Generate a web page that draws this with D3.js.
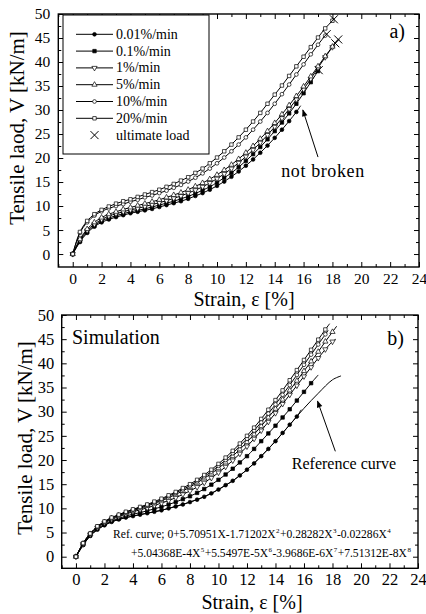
<!DOCTYPE html>
<html>
<head>
<meta charset="utf-8">
<script src="https://cdn.jsdelivr.net/npm/d3@7"></script>
<style>
    body { margin: 0; background: #fff; }
    svg text { font-family: "Liberation Serif", "Times New Roman", serif !important; fill: #000; }
</style>
</head>
<body>
<svg id="chart" width="426" height="614" font-family="Liberation Serif"></svg>
<script>
// tick labels
const xTicks = [0, 2, 4, 6, 8, 10, 12, 14, 16, 18, 20, 22, 24];
const xMinor = [-1, 1, 3, 5, 7, 9, 11, 13, 15, 17, 19, 21, 23];
const yTicks = [0, 5, 10, 15, 20, 25, 30, 35, 40, 45, 50];
const yMinor = [2.5, 7.5, 12.5, 17.5, 22.5, 27.5, 32.5, 37.5, 42.5, 47.5];

const rateLabels = ["0.01%/min", "0.1%/min", "1%/min", "5%/min", "10%/min", "20%/min"];
const markerTypes = ["circleFilled", "squareFilled", "triangleDown", "triangleUp", "circle", "square"];

// strain [%] of the measured points
const strainGrid = [0, 0.5, 1, 1.5, 2, 2.5, 3, 3.5, 4, 4.5, 5, 5.5, 6, 6.5, 7, 7.5, 8, 8.5,
    9, 9.5, 10, 10.5, 11, 11.5, 12, 12.5, 13, 13.5, 14, 14.5, 15, 15.5, 16, 16.5, 17, 17.5, 18];

// a) experiment, tensile load [kN/m]
const testLoad001 = [0, 2.5, 4.4, 5.7, 6.6, 7.2, 7.7, 8.1, 8.5, 8.8, 9.1, 9.4, 9.8, 10.2, 10.6, 11.0, 11.5, 12.1,
    12.7, 13.4, 14.2, 15.1, 16.1, 17.2, 18.4, 19.7, 21.1, 22.6, 24.2, 25.9, 27.7, 29.6];
const testLoad01 = [0, 2.7, 4.6, 5.9, 6.9, 7.5, 8.0, 8.4, 8.8, 9.1, 9.4, 9.8, 10.2, 10.6, 11.0, 11.5, 12.0, 12.6,
    13.3, 14.0, 14.9, 15.9, 16.9, 18.1, 19.4, 20.8, 22.3, 23.9, 25.6, 27.4, 29.3, 31.3, 33.5, 35.8, 38.1];
const testLoad1 = [0, 2.9, 4.9, 6.2, 7.2, 7.9, 8.4, 8.8, 9.2, 9.5, 9.9, 10.3, 10.7, 11.1, 11.6, 12.1, 12.7, 13.3,
    14.0, 14.8, 15.7, 16.7, 17.8, 19.0, 20.3, 21.7, 23.2, 24.8, 26.5, 28.3, 30.2, 32.2, 34.3, 36.5, 38.8, 41.0, 43.1];
const testLoad5 = [0, 3.1, 5.2, 6.6, 7.6, 8.3, 8.8, 9.3, 9.7, 10.1, 10.5, 10.9, 11.3, 11.8, 12.3, 12.8, 13.4, 14.1,
    14.8, 15.6, 16.5, 17.5, 18.6, 19.8, 21.1, 22.5, 24.0, 25.6, 27.3, 29.1, 31.0, 32.9, 34.9, 37.0, 39.1, 41.2, 43.2];
const testLoad10 = [0, 4.4, 6.6, 8.0, 8.9, 9.5, 10.0, 10.4, 10.9, 11.3, 11.8, 12.2, 12.7, 13.2, 13.8, 14.4, 15.1, 15.9,
    16.8, 17.8, 18.9, 20.1, 21.4, 22.8, 24.3, 25.9, 27.6, 29.4, 31.3, 33.3, 35.3, 37.4, 39.5, 41.6, 43.6, 45.5];
const testLoad20 = [0, 4.6, 6.9, 8.3, 9.2, 9.9, 10.5, 11.0, 11.4, 11.9, 12.4, 12.9, 13.4, 14.0, 14.6, 15.3, 16.0, 16.9,
    17.8, 18.9, 20.1, 21.4, 22.8, 24.3, 25.9, 27.6, 29.4, 31.3, 33.2, 35.1, 37.1, 39.1, 41.1, 43.1, 45.1, 47.0, 48.6];
// last point of each test [strain, load]; the 0.01%/min sample did not break
const testEnd = [[15.8, 30.9], [17.05, 38.3], [18.2, 43.9], [18.4, 44.7], [17.6, 45.8], [18.1, 48.9]];
const testBroken = [false, true, true, true, true, true];

// b) simulation
const simLoad001 = [0, 2.4, 4.3, 5.6, 6.5, 7.2, 7.7, 8.1, 8.4, 8.7, 9.0, 9.3, 9.6, 10.0, 10.4, 10.8, 11.3, 11.8,
    12.4, 13.1, 13.9, 14.8, 15.7, 16.8, 18.0, 19.3, 20.8, 22.3, 23.9, 25.6, 27.3, 29.0];
const simLoad01 = [0, 2.5, 4.4, 5.8, 6.7, 7.4, 7.9, 8.4, 8.8, 9.1, 9.5, 9.9, 10.3, 10.8, 11.3, 11.9, 12.5, 13.2,
    14.0, 14.9, 15.9, 17.0, 18.2, 19.5, 20.8, 22.3, 23.9, 25.5, 27.1, 28.8, 30.5, 32.3, 34.1, 35.9];
const simLoad1 = [0, 2.6, 4.6, 6.0, 7.0, 7.7, 8.3, 8.8, 9.3, 9.7, 10.1, 10.6, 11.1, 11.6, 12.2, 12.9, 13.6, 14.4,
    15.3, 16.3, 17.4, 18.6, 19.9, 21.3, 22.8, 24.4, 26.1, 27.9, 29.7, 31.6, 33.5, 35.4, 37.3, 39.2, 41.1, 42.9, 44.5];
const simLoad5 = [0, 2.7, 4.7, 6.1, 7.1, 7.9, 8.5, 9.0, 9.5, 10.0, 10.5, 11.0, 11.6, 12.2, 12.9, 13.6, 14.4, 15.3,
    16.2, 17.2, 18.3, 19.5, 20.8, 22.2, 23.7, 25.3, 27.0, 28.8, 30.6, 32.5, 34.4, 36.4, 38.4, 40.4, 42.4, 44.5, 46.5];
const simLoad10 = [0, 2.8, 4.8, 6.2, 7.2, 8.0, 8.6, 9.2, 9.7, 10.2, 10.7, 11.2, 11.8, 12.5, 13.2, 13.9, 14.7, 15.6,
    16.6, 17.6, 18.8, 20.0, 21.4, 22.9, 24.4, 26.1, 27.8, 29.6, 31.5, 33.5, 35.5, 37.6, 39.7, 41.8, 43.9, 46.0];
const simLoad20 = [0, 2.8, 4.8, 6.3, 7.3, 8.1, 8.7, 9.3, 9.8, 10.3, 10.8, 11.4, 12.0, 12.7, 13.4, 14.2, 15.0, 15.9,
    16.9, 18.0, 19.2, 20.5, 21.9, 23.4, 25.0, 26.7, 28.5, 30.4, 32.4, 34.4, 36.5, 38.6, 40.7, 42.8, 44.9, 47.0];
const simEnd = [[15.8, 30.4], [17.0, 37.6], [18.24, 45.0], [18.3, 47.7], [17.7, 46.8], [17.8, 48.2]];

// reference curve (plain line)
const refStrain = [0, 1, 2, 3, 4, 5, 6, 7, 8, 9, 10, 11, 12, 13, 14, 15, 16, 17, 18, 18.6];
const refLoad = [0, 4.3, 6.5, 7.7, 8.4, 9.0, 9.6, 10.4, 11.3, 12.4, 13.9, 15.7, 18.0, 20.8, 23.9, 27.3, 30.7, 33.8, 36.6, 37.4];

const testLoads = [testLoad001, testLoad01, testLoad1, testLoad5, testLoad10, testLoad20];
const simLoads = [simLoad001, simLoad01, simLoad1, simLoad5, simLoad10, simLoad20];

const SERIF = '"Liberation Serif", "Times New Roman", serif';
const svg = d3.select("#chart");

// arrow head
svg.append("defs").append("marker")
    .attr("id", "arrow")
    .attr("viewBox", "0 0 10 10")
    .attr("refX", 9).attr("refY", 5)
    .attr("markerWidth", 9).attr("markerHeight", 7)
    .attr("markerUnits", "userSpaceOnUse")
    .attr("orient", "auto")
    .append("path")
    .attr("d", "M0,1L10,5L0,9z")
    .attr("fill", "#000");

function symbolPath(type) {
    const s = d3.symbol();
    if (type === "circle" || type === "circleFilled") return s.type(d3.symbolCircle).size(11)();
    if (type === "square" || type === "squareFilled") return s.type(d3.symbolSquare).size(12)();
    return s.type(d3.symbolTriangle).size(12)();
}

function drawMarkers(g, pts, x, y, type) {
    const filled = type.endsWith("Filled");
    g.append("g").selectAll("path")
        .data(pts)
        .enter().append("path")
        .attr("d", symbolPath(type))
        .attr("transform", d => `translate(${x(d[0])},${y(d[1])})` + (type === "triangleDown" ? " rotate(180)" : ""))
        .attr("fill", filled ? "#000" : "#fff")
        .attr("stroke", "#000")
        .attr("stroke-width", 0.7);
}

function drawPanel(p) {
    const g = svg.append("g");
    const x = d3.scaleLinear().domain([-1, 24]).range([p.left, p.right]);
    const y = d3.scaleLinear().domain([p.yMin, 50]).range([p.bottom, p.top]);

    const styleTicks = a => {
        a.attr("font-family", SERIF);
        a.select(".domain").remove();
        a.selectAll("line").attr("stroke-width", 1);
        a.selectAll("text").attr("font-size", p.tickFont).attr("fill", "#000");
    };

    g.append("g").attr("transform", `translate(0,${p.bottom})`)
        .call(d3.axisBottom(x).tickValues(xTicks).tickSize(-5).tickPadding(p.xPad)).call(styleTicks);
    g.append("g").attr("transform", `translate(0,${p.bottom})`)
        .call(d3.axisBottom(x).tickValues(xMinor).tickSize(-3).tickFormat("")).call(styleTicks);
    g.append("g").attr("transform", `translate(0,${p.top})`)
        .call(d3.axisTop(x).tickValues(xTicks).tickSize(-5).tickFormat("")).call(styleTicks);
    g.append("g").attr("transform", `translate(0,${p.top})`)
        .call(d3.axisTop(x).tickValues(xMinor).tickSize(-3).tickFormat("")).call(styleTicks);
    g.append("g").attr("transform", `translate(${p.left},0)`)
        .call(d3.axisLeft(y).tickValues(yTicks).tickSize(-5).tickPadding(p.yPad)).call(styleTicks);
    g.append("g").attr("transform", `translate(${p.left},0)`)
        .call(d3.axisLeft(y).tickValues(yMinor).tickSize(-3).tickFormat("")).call(styleTicks);
    g.append("g").attr("transform", `translate(${p.right},0)`)
        .call(d3.axisRight(y).tickValues(yTicks).tickSize(-5).tickFormat("")).call(styleTicks);
    g.append("g").attr("transform", `translate(${p.right},0)`)
        .call(d3.axisRight(y).tickValues(yMinor).tickSize(-3).tickFormat("")).call(styleTicks);

    g.append("rect")
        .attr("x", p.left).attr("y", p.top)
        .attr("width", p.right - p.left).attr("height", p.bottom - p.top)
        .attr("fill", "none").attr("stroke", "#000").attr("stroke-width", 1.4);

    // axis titles
    g.append("text")
        .attr("x", p.xTitleX).attr("y", p.xTitleY)
        .attr("text-anchor", "middle").attr("font-size", 20)
        .text("Strain, ε [%]");
    g.append("text")
        .attr("transform", `translate(${p.yTitleX},${p.yTitleY}) rotate(-90)`)
        .attr("text-anchor", "middle").attr("font-size", 21)
        .text(p.yTitle);

    const line = d3.line().x(d => x(d[0])).y(d => y(d[1])).curve(d3.curveCatmullRom);

    if (p.ref) {
        const refPts = refStrain.map((s, i) => [s, refLoad[i]]);
        g.append("path").attr("d", line(refPts))
            .attr("fill", "none").attr("stroke", "#000").attr("stroke-width", 1);
    }

    p.loads.forEach((loads, k) => {
        const pts = loads.map((v, i) => [strainGrid[i], v]);
        const all = pts.concat([p.ends[k]]);
        g.append("path").attr("d", line(all))
            .attr("fill", "none").attr("stroke", "#000").attr("stroke-width", 1);
        drawMarkers(g, pts, x, y, markerTypes[k]);
        if (p.broken && p.broken[k]) {
            const e = p.ends[k];
            g.append("path")
                .attr("transform", `translate(${x(e[0])},${y(e[1])})`)
                .attr("d", "M-4,-4L4,4M-4,4L4,-4")
                .attr("stroke", "#000").attr("stroke-width", 1);
        }
    });

    g.append("text")
        .attr("x", p.right - 14).attr("y", p.top + p.tagY)
        .attr("text-anchor", "end").attr("font-size", 20)
        .text(p.tag);

    return { g, x, y };
}

// ---- a) experiment
const panelA = drawPanel({
    left: 58.3, right: 419, top: 14, bottom: 267, yMin: -2.7,
    tickFont: 15.5, xPad: 6, yPad: 8,
    xTitleX: 244, xTitleY: 306,
    yTitle: "Tensile laod, V [kN/m]", yTitleX: 24, yTitleY: 128,
    loads: testLoads, ends: testEnd, broken: testBroken,
    tag: "a)", tagY: 24
});

// legend
const legend = panelA.g.append("g");
legend.append("rect")
    .attr("x", 63).attr("y", 15).attr("width", 146).attr("height", 139)
    .attr("fill", "#fff").attr("stroke", "#000").attr("stroke-width", 1);
rateLabels.forEach((label, i) => {
    const ry = 34.3 + i * 16.8;
    legend.append("line")
        .attr("x1", 76).attr("x2", 113).attr("y1", ry).attr("y2", ry)
        .attr("stroke", "#000").attr("stroke-width", 1);
    legend.append("path")
        .attr("d", symbolPath(markerTypes[i]))
        .attr("transform", `translate(94.5,${ry})` + (markerTypes[i] === "triangleDown" ? " rotate(180)" : ""))
        .attr("fill", markerTypes[i].endsWith("Filled") ? "#000" : "#fff")
        .attr("stroke", "#000").attr("stroke-width", 0.7);
    legend.append("text")
        .attr("x", 116).attr("y", ry + 4.5).attr("font-size", 14)
        .text(label);
});
const ry7 = 34.3 + 6 * 16.8;
legend.append("path")
    .attr("transform", `translate(94.5,${ry7})`)
    .attr("d", "M-4,-4L4,4M-4,4L4,-4")
    .attr("stroke", "#000").attr("stroke-width", 1);
legend.append("text")
    .attr("x", 116).attr("y", ry7 + 4.5).attr("font-size", 14)
    .text("ultimate load");

panelA.g.append("line")
    .attr("x1", panelA.x(17.0)).attr("y1", panelA.y(20.2))
    .attr("x2", panelA.x(15.95)).attr("y2", panelA.y(30.0))
    .attr("stroke", "#000").attr("stroke-width", 1)
    .attr("marker-end", "url(#arrow)");
panelA.g.append("text")
    .attr("x", 323).attr("y", 177).attr("text-anchor", "middle")
    .attr("font-size", 18).attr("letter-spacing", 0.6)
    .text("not broken");

// ---- b) simulation
const panelB = drawPanel({
    left: 61.7, right: 418, top: 315, bottom: 568.3, yMin: -2.4,
    tickFont: 16.5, xPad: 5.3, yPad: 7.5,
    xTitleX: 252, xTitleY: 609,
    yTitle: "Tensile load, V [kN/m]", yTitleX: 32, yTitleY: 438,
    loads: simLoads, ends: simEnd, broken: null, ref: true,
    tag: "b)", tagY: 30
});

panelB.g.append("text")
    .attr("x", 72).attr("y", 344).attr("font-size", 20)
    .text("Simulation");

panelB.g.append("line")
    .attr("x1", panelB.x(18.2)).attr("y1", panelB.y(21.8))
    .attr("x2", panelB.x(16.95)).attr("y2", panelB.y(32.2))
    .attr("stroke", "#000").attr("stroke-width", 1)
    .attr("marker-end", "url(#arrow)");
panelB.g.append("text")
    .attr("x", 344).attr("y", 469).attr("text-anchor", "middle")
    .attr("font-size", 16)
    .text("Reference curve");

// equation of the reference curve, with superscripts
function richText(g, xPos, yPos, parts) {
    const t = g.append("text")
        .attr("x", xPos).attr("y", yPos).attr("font-size", 11.6);
    parts.forEach(([str, sup], i) => {
        const span = t.append("tspan").text(str);
        if (sup) span.attr("dy", -5).attr("dx", 0.4).attr("font-size", 7);
        else if (i > 0) span.attr("dy", 5).attr("dx", 0.4);
    });
}
richText(panelB.g, 113, 538, [
    ["Ref. curve; 0+5.70951X-1.71202X"], ["2", true], ["+0.28282X"], ["3", true],
    ["-0.02286X"], ["4", true]
]);
richText(panelB.g, 131, 557, [
    ["+5.04368E-4X"], ["5", true], ["+5.5497E-5X"], ["6", true],
    ["-3.9686E-6X"], ["7", true], ["+7.51312E-8X"], ["8", true]
]);

svg.selectAll("text").style("font-family", SERIF);
</script>
</body>
</html>
